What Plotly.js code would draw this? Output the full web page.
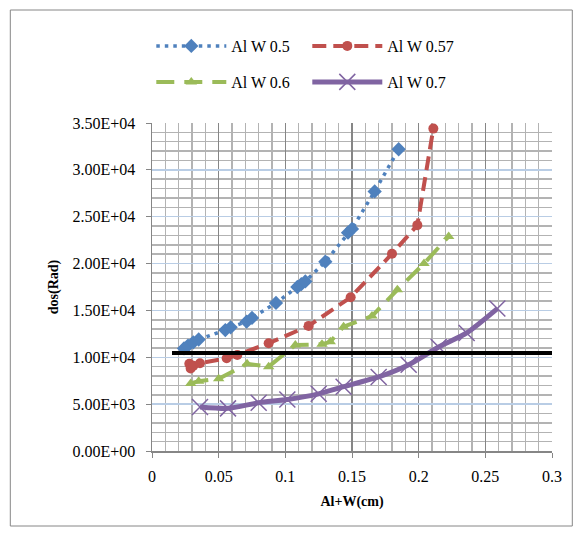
<!DOCTYPE html>
<html>
<head>
<meta charset="utf-8">
<script src="https://cdn.plot.ly/plotly-3.0.1.min.js"></script>
<style>
  html, body { margin: 0; padding: 0; background: #ffffff; }
  #chart { width: 582px; height: 536px; }
</style>
</head>
<body>
<div id="chart"></div>
<script>
// ---- data ----
const seriesNames = ["Al W 0.5", "Al W 0.57", "Al W 0.6", "Al W 0.7"];

const xBlue = [0.024, 0.027, 0.031, 0.035, 0.055, 0.059, 0.071, 0.075, 0.093, 0.109, 0.112, 0.115, 0.130, 0.147, 0.150, 0.167, 0.185];
const yBlue = [10950, 11250, 11600, 11900, 12900, 13200, 13800, 14200, 15800, 17500, 17800, 18100, 20200, 23300, 23700, 27700, 32200];

const xRed = [0.028, 0.029, 0.031, 0.036, 0.056, 0.064, 0.0875, 0.1175, 0.149, 0.180, 0.199, 0.211];
const yRed = [9300, 8800, 9100, 9360, 9890, 10240, 11500, 13350, 16400, 21050, 24100, 34400];

const xGreen = [0.029, 0.035, 0.050, 0.0713, 0.0875, 0.1075, 0.1275, 0.1337, 0.1437, 0.165, 0.184, 0.204, 0.2225];
const yGreen = [7200, 7450, 7700, 9300, 9000, 11300, 11400, 11650, 13270, 14400, 17200, 20000, 22900];

const xPurple = [0.036, 0.057, 0.080, 0.1015, 0.125, 0.1437, 0.170, 0.1925, 0.215, 0.236, 0.259];
const yPurple = [4700, 4550, 5150, 5500, 6100, 6860, 7900, 9200, 11100, 12600, 15200];

const xLimit = [0.015, 0.3];
const yLimit = [10450, 10450];

const yTickVals = [0, 5000, 10000, 15000, 20000, 25000, 30000, 35000];
const yTickText = ["0.00E+00", "5.00E+03", "1.00E+04", "1.50E+04", "2.00E+04", "2.50E+04", "3.00E+04", "3.50E+04"];

const xTitle = "Al+W(cm)";
const yTitle = "dos(Rad)";

// ---- traces ----
const serif = "Liberation Serif, Times New Roman, serif";

const traces = [
  {
    x: xBlue, y: yBlue, name: seriesNames[0], type: "scatter", mode: "lines+markers",
    line: { color: "#4f81bd", width: 3.5, dash: "3.5px,5px" },
    marker: { symbol: "diamond", size: 11, color: "#4f81bd" },
    legend: "legend"
  },
  {
    x: xRed, y: yRed, name: seriesNames[1], type: "scatter", mode: "lines+markers",
    line: { color: "#c0504d", width: 4, dash: "14px,7px" },
    marker: { symbol: "circle", size: 10, color: "#c0504d" },
    legend: "legend"
  },
  {
    x: xGreen, y: yGreen, name: seriesNames[2], type: "scatter", mode: "lines+markers",
    line: { color: "#9bbb59", width: 4, dash: "18px,10px" },
    marker: { symbol: "triangle-up", size: 10, color: "#9bbb59" },
    legend: "legend2"
  },
  {
    x: xPurple, y: yPurple, name: seriesNames[3], type: "scatter", mode: "lines+markers",
    line: { color: "#8064a2", width: 5, shape: "spline", smoothing: 0.6 },
    marker: { symbol: "x-thin-open", size: 16, color: "#8064a2", line: { color: "#8064a2", width: 1.5 } },
    legend: "legend2"
  },
  {
    x: xLimit, y: yLimit, type: "scatter", mode: "lines",
    line: { color: "#000000", width: 4 },
    showlegend: false, hoverinfo: "skip"
  }
];

// plot area: left 151.7, right 551.7, top 123, bottom 451
const W = 582, H = 536;
const L = 151.7, R = 30.3, T = 123, B = 85;
const pw = W - L - R, ph = H - T - B;
const px = v => (v - L) / pw;          // pixel x -> paper x
const py = v => (H - B - v) / ph;      // pixel y -> paper y

const legendCommon = {
  orientation: "h",
  xanchor: "left", yanchor: "middle",
  entrywidth: 71, entrywidthmode: "pixels",
  itemwidth: 70,
  font: { family: serif, size: 16, color: "#000000" },
  bgcolor: "rgba(0,0,0,0)", borderwidth: 0
};

const layout = {
  width: W, height: H,
  margin: { l: L, r: R, t: T, b: B, pad: 0 },
  paper_bgcolor: "#ffffff",
  plot_bgcolor: "#ffffff",
  showlegend: true,
  legend: Object.assign({}, legendCommon, { x: px(151), y: py(46) }),
  legend2: Object.assign({}, legendCommon, { x: px(151), y: py(82) }),
  xaxis: {
    range: [0, 0.3], dtick: 0.05, tick0: 0,
    showgrid: true, gridcolor: "#868686", gridwidth: 1.5,
    minor: { dtick: 0.01, showgrid: true, gridcolor: "#b3b3b3", gridwidth: 1.5, ticks: "" },
    zeroline: false,
    showline: true, linecolor: "#868686", linewidth: 1.5,
    ticks: "outside", ticklen: 5, tickcolor: "#868686", tickwidth: 1,
    ticklabelstandoff: 5,
    tickfont: { family: serif, size: 16, color: "#000000" },
    title: { text: xTitle, font: { family: serif, size: 14, weight: "bold", color: "#000000" }, standoff: 12 },
    fixedrange: true
  },
  yaxis: {
    range: [0, 35000],
    tickmode: "array", tickvals: yTickVals, ticktext: yTickText,
    showgrid: true, gridcolor: "#b9cde5", gridwidth: 1.5,
    minor: { dtick: 1000, showgrid: true, gridcolor: "#b3b3b3", gridwidth: 1.5, ticks: "" },
    zeroline: false,
    showline: true, linecolor: "#868686", linewidth: 1.5,
    ticks: "outside", ticklen: 5, tickcolor: "#868686", tickwidth: 1,
    ticklabelstandoff: 7,
    tickfont: { family: serif, size: 16, color: "#000000" },
    title: { text: yTitle, font: { family: serif, size: 14, weight: "bold", color: "#000000" }, standoff: 10 },
    fixedrange: true
  },
  shapes: [
    {
      type: "rect", xref: "paper", yref: "paper", layer: "below",
      x0: px(10), x1: px(572), y0: py(526), y1: py(10),
      line: { color: "#868686", width: 1 }, fillcolor: "rgba(0,0,0,0)"
    }
  ]
};

Plotly.newPlot("chart", traces, layout, { displayModeBar: false, staticPlot: true });
</script>
</body>
</html>
